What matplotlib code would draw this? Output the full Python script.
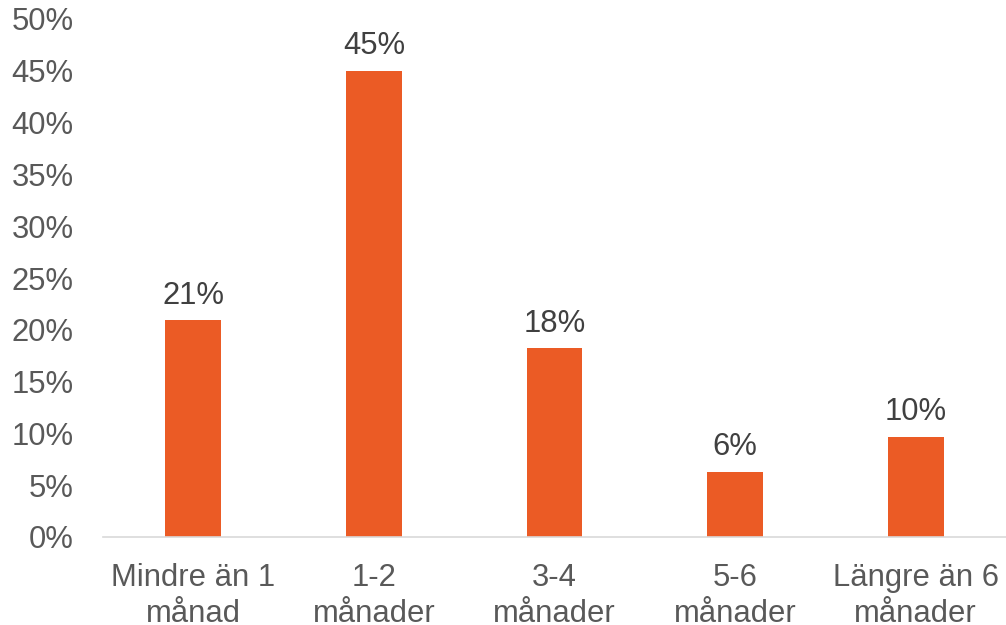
import matplotlib
matplotlib.use("Agg")
import matplotlib.pyplot as plt
from matplotlib.ticker import FuncFormatter

categories = ["Mindre än 1\nmånad", "1-2\nmånader", "3-4\nmånader", "5-6\nmånader", "Längre än 6\nmånader"]
values = [20.9, 45.0, 18.2, 6.3, 9.7]
labels = ["21%", "45%", "18%", "6%", "10%"]
yticks = [0, 5, 10, 15, 20, 25, 30, 35, 40, 45, 50]

plt.rcParams['font.family'] = ['Liberation Sans', 'DejaVu Sans']
FS = 22.3

fig = plt.figure(figsize=(10.06, 6.25), dpi=100)
ax = fig.add_axes([103/1006, 88/625, 903/1006, 518/625])

x = list(range(len(categories)))
bars = ax.bar(x, values, width=0.31, color="#EB5B25", zorder=2)
ax.set_xlim(-0.5, len(categories) - 0.5)
ax.set_ylim(0, 50)
ax.set_yticks(yticks)
ax.yaxis.set_major_formatter(FuncFormatter(lambda v, p: f"{int(v)}%"))
ax.set_xticks(x)
ax.set_xticklabels(categories, linespacing=1.25)

for s in ["top", "right", "left"]:
    ax.spines[s].set_visible(False)
ax.spines["bottom"].set_color("#D9D9D9")
ax.spines["bottom"].set_linewidth(1.2)

ax.tick_params(axis="y", length=0, pad=21, labelsize=FS, labelcolor="#595959")
ax.tick_params(axis="x", length=0, pad=19, labelsize=FS, labelcolor="#595959")

for xi, v, lab in zip(x, values, labels):
    ax.annotate(lab, (xi, v), xytext=(0, 12), textcoords="offset points",
                ha="center", va="baseline", fontsize=FS, color="#404040")

fig.savefig("out.png", dpi=100)
